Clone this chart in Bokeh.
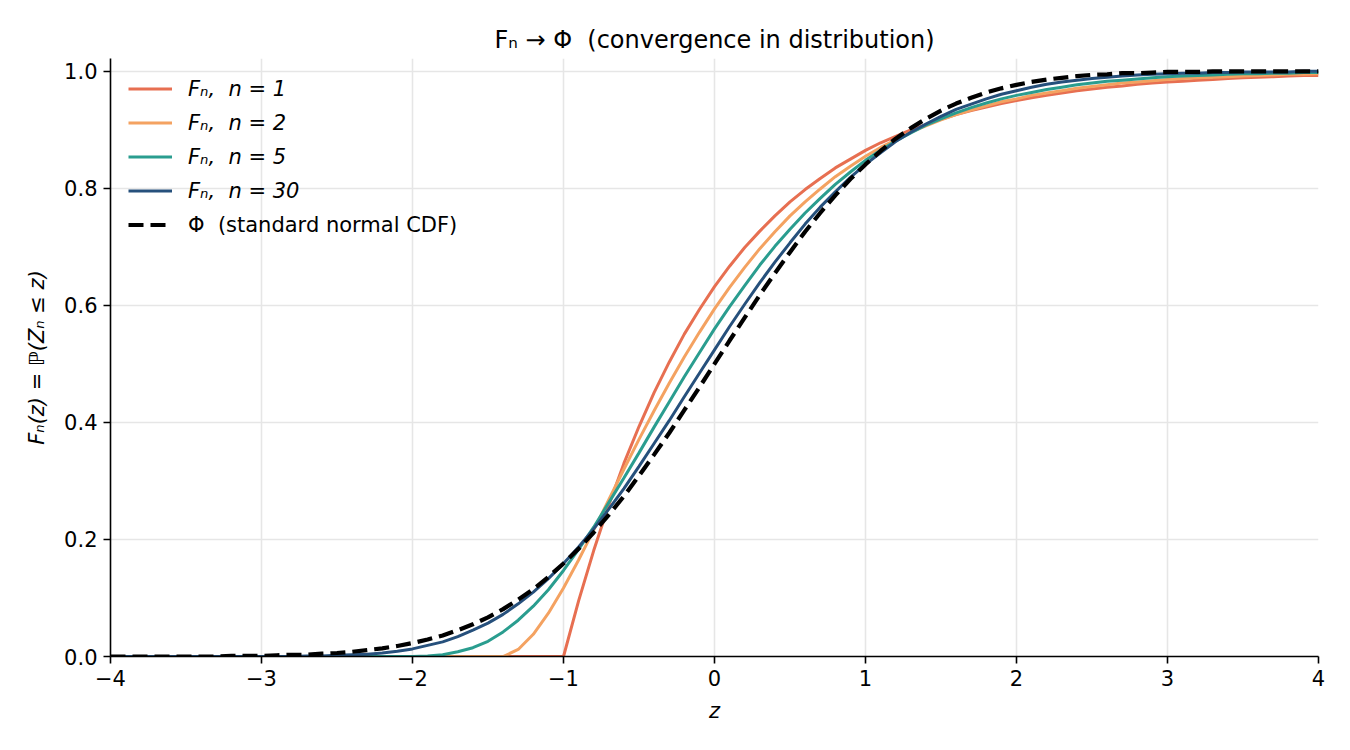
from bokeh.plotting import figure
from bokeh.models import (Range1d, FixedTicker, NumeralTickFormatter, Legend,
                          LegendItem, ColumnDataSource)
from bokeh.embed import file_html
from bokeh.resources import INLINE

# Evaluation grid for z
z_grid = [-4.0, -3.9, -3.8, -3.7, -3.6, -3.5, -3.4, -3.3, -3.2, -3.1,
          -3.0, -2.9, -2.8, -2.7, -2.6, -2.5, -2.4, -2.3, -2.2, -2.1,
          -2.0, -1.9, -1.8, -1.7, -1.6, -1.5, -1.4, -1.3, -1.2, -1.1,
          -1.0, -0.9, -0.8, -0.7, -0.6, -0.5, -0.4, -0.3, -0.2, -0.1,
          0.0, 0.1, 0.2, 0.3, 0.4, 0.5, 0.6, 0.7, 0.8, 0.9,
          1.0, 1.1, 1.2, 1.3, 1.4, 1.5, 1.6, 1.7, 1.8, 1.9,
          2.0, 2.1, 2.2, 2.3, 2.4, 2.5, 2.6, 2.7, 2.8, 2.9,
          3.0, 3.1, 3.2, 3.3, 3.4, 3.5, 3.6, 3.7, 3.8, 3.9, 4.0]

# F_n(z) for the standardized sums, n = 1, 2, 5, 30
cdf_n1 = [0.0] * 31 + [
    0.095, 0.181, 0.259, 0.330, 0.393, 0.451, 0.503, 0.551, 0.593, 0.632,
    0.667, 0.699, 0.727, 0.753, 0.777, 0.798, 0.817, 0.835, 0.850, 0.865,
    0.878, 0.889, 0.900, 0.909, 0.918, 0.926, 0.933, 0.939, 0.945, 0.950,
    0.955, 0.959, 0.963, 0.967, 0.970, 0.973, 0.975, 0.978, 0.980, 0.982,
    0.983, 0.985, 0.986, 0.988, 0.989, 0.990, 0.991, 0.992, 0.993, 0.993]

cdf_n2 = [0.0] * 26 + [
    0.000, 0.012, 0.038, 0.074, 0.117, 0.165, 0.216, 0.268, 0.320, 0.371,
    0.420, 0.467, 0.512, 0.554, 0.594,
    0.631, 0.665, 0.697, 0.726, 0.753, 0.777, 0.799, 0.820, 0.838, 0.855,
    0.870, 0.883, 0.896, 0.907, 0.917, 0.926, 0.934, 0.941, 0.948, 0.953,
    0.959, 0.963, 0.967, 0.971, 0.974, 0.977, 0.980, 0.982, 0.984, 0.986,
    0.988, 0.989, 0.990, 0.991, 0.992, 0.993, 0.994, 0.995, 0.995, 0.996]

cdf_n5 = [0.0] * 20 + [
    0.000, 0.001, 0.003, 0.008, 0.015, 0.026, 0.042, 0.062, 0.086, 0.114,
    0.147, 0.183, 0.221, 0.263, 0.305, 0.348, 0.392, 0.435, 0.478, 0.519,
    0.560,
    0.598, 0.634, 0.669, 0.701, 0.730, 0.758, 0.783, 0.807, 0.828, 0.848,
    0.865, 0.881, 0.895, 0.908, 0.919, 0.929, 0.938, 0.946, 0.953, 0.959,
    0.964, 0.969, 0.973, 0.977, 0.980, 0.983, 0.985, 0.987, 0.989, 0.991,
    0.992, 0.993, 0.994, 0.995, 0.996, 0.996, 0.997, 0.997, 0.998, 0.998]

cdf_n30 = [0.0] * 10 + [
    0.000, 0.000, 0.000, 0.001, 0.001, 0.002, 0.003, 0.004, 0.006, 0.009,
    0.013, 0.019, 0.025, 0.034, 0.045, 0.057, 0.072, 0.090, 0.110, 0.133,
    0.159, 0.187, 0.218, 0.252, 0.287, 0.325, 0.364, 0.403, 0.444, 0.484,
    0.524,
    0.564, 0.602, 0.639, 0.674, 0.707, 0.739, 0.768, 0.794, 0.819, 0.841,
    0.861, 0.880, 0.896, 0.910, 0.923, 0.935, 0.944, 0.953, 0.961, 0.967,
    0.973, 0.978, 0.982, 0.985, 0.988, 0.990, 0.992, 0.994, 0.995, 0.996,
    0.997, 0.997, 0.998, 0.998, 0.999, 0.999, 0.999, 0.999, 1.000, 1.000]

# Standard normal CDF
phi_cdf = [0.000] * 8 + [
    0.001, 0.001, 0.001, 0.002, 0.003, 0.003, 0.005, 0.006, 0.008, 0.011,
    0.014, 0.018, 0.023, 0.029, 0.036, 0.045, 0.055, 0.067, 0.081, 0.097,
    0.115, 0.136, 0.159, 0.184, 0.212, 0.242, 0.274, 0.309, 0.345, 0.382,
    0.421, 0.460, 0.500,
    0.540, 0.579, 0.618, 0.655, 0.691, 0.726, 0.758, 0.788, 0.816, 0.841,
    0.864, 0.885, 0.903, 0.919, 0.933, 0.945, 0.955, 0.964, 0.971, 0.977,
    0.982, 0.986, 0.989, 0.992, 0.994, 0.995, 0.997, 0.997, 0.998, 0.999,
    0.999, 0.999, 1.000, 1.000, 1.000, 1.000, 1.000, 1.000, 1.000, 1.000]

series_n = [1, 2, 5, 30]
series_vals = [cdf_n1, cdf_n2, cdf_n5, cdf_n30]
series_colors = ["#e76f51", "#f4a261", "#2a9d8f", "#26507c"]

x_ticks = [-4, -3, -2, -1, 0, 1, 2, 3, 4]
y_ticks = [0.0, 0.2, 0.4, 0.6, 0.8, 1.0]

FONT = "DejaVu Sans"
FS = "21px"
SP2 = "\u00a0\u00a0"   # two non-collapsing spaces

p = figure(width=1350, height=750,
           x_range=Range1d(-4, 4), y_range=Range1d(0, 1.022),
           output_backend="svg", toolbar_location=None,
           min_border_left=110, min_border_right=32,
           min_border_top=58, min_border_bottom=94)

p.outline_line_color = None
p.background_fill_color = "white"
p.border_fill_color = "white"

# Title
p.title.text = "Fₙ → Φ" + SP2 + "(convergence in distribution)"
p.title.align = "center"
p.title.text_font = FONT
p.title.text_font_size = "24px"
p.title.text_font_style = "normal"
p.title.text_color = "black"
p.title.standoff = 10

# Axes
for ax in (p.xaxis[0], p.yaxis[0]):
    ax.axis_line_color = "black"
    ax.axis_line_width = 1.6
    ax.major_tick_line_color = "black"
    ax.major_tick_line_width = 1.6
    ax.major_tick_out = 7
    ax.major_tick_in = 0
    ax.minor_tick_line_color = None
    ax.major_label_text_font = FONT
    ax.major_label_text_font_size = FS
    ax.major_label_text_color = "black"
    ax.major_label_standoff = 6
    ax.axis_label_text_font = FONT
    ax.axis_label_text_font_size = FS
    ax.axis_label_text_font_style = "italic"
    ax.axis_label_text_color = "black"

p.xaxis.ticker = FixedTicker(ticks=x_ticks)
p.xaxis.major_label_overrides = {t: (("−" + str(-t)) if t < 0 else str(t)) for t in x_ticks}
p.xaxis.axis_label = "z"
p.xaxis.axis_label_standoff = 10

p.yaxis.ticker = FixedTicker(ticks=y_ticks)
p.yaxis.formatter = NumeralTickFormatter(format="0.0")
p.yaxis.axis_label = "Fₙ(z) = ℙ(Zₙ ≤ z)"
p.yaxis.axis_label_standoff = 12

# Grid
p.xgrid.ticker = FixedTicker(ticks=x_ticks)
p.ygrid.ticker = FixedTicker(ticks=y_ticks)
for g in (p.xgrid[0], p.ygrid[0]):
    g.grid_line_color = "#e6e6e6"
    g.grid_line_width = 1.6

# Curves
fn_items = []
for n, vals, col in zip(series_n, series_vals, series_colors):
    src = ColumnDataSource(dict(z=z_grid, f=vals))
    r = p.line("z", "f", source=src, line_color=col, line_width=3)
    fn_items.append(LegendItem(label=f"Fₙ,{SP2}n = {n}", renderers=[r]))

phi_src = ColumnDataSource(dict(z=z_grid, f=phi_cdf))
r_phi = p.line("z", "f", source=phi_src, line_color="black", line_width=4.2,
               line_dash="15 7")

common = dict(border_line_color=None, background_fill_alpha=0,
              padding=0, margin=0, glyph_width=44, glyph_height=25,
              label_height=25, label_standoff=16, spacing=9,
              label_text_font=FONT, label_text_font_size=FS,
              label_text_color="black")

legend_fn = Legend(items=fn_items, location=(18, 453),
                   label_text_font_style="italic", **common)
legend_phi = Legend(items=[LegendItem(label="Φ" + SP2 + "(standard normal CDF)",
                                      renderers=[r_phi])],
                    location=(18, 419), **common)
p.add_layout(legend_fn)
p.add_layout(legend_phi)

open("out.html", "w").write(file_html(p, INLINE))
